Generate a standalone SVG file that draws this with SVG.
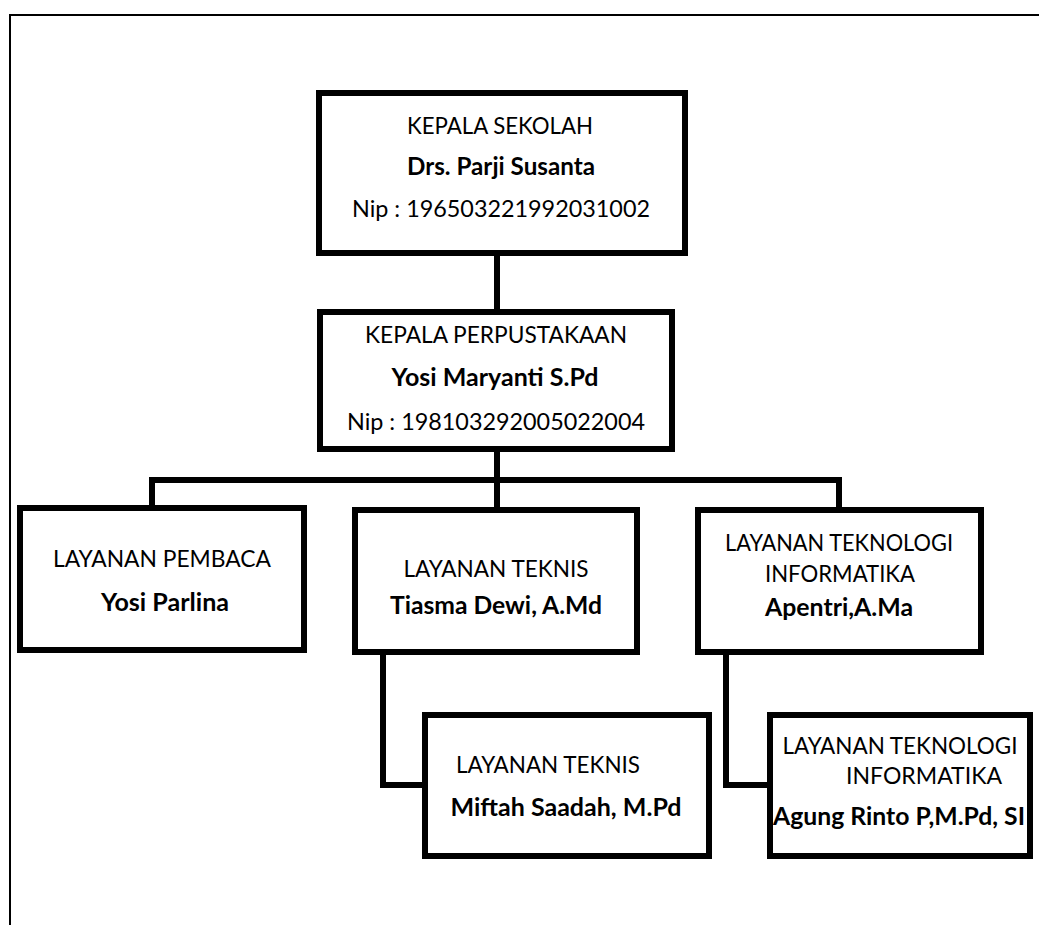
<svg xmlns="http://www.w3.org/2000/svg" width="1039" height="925" viewBox="0 0 1039 925">
<style>
.box{fill:#fff;stroke:#000;stroke-width:6}
.ln{fill:none;stroke:#000;stroke-width:6;stroke-linejoin:miter;stroke-linecap:butt}
text{font-family:Lato,"Open Sans","Liberation Sans",sans-serif;font-size:24px;fill:#000;text-anchor:middle}
.b{font-weight:bold}
</style>
<rect width="1039" height="925" fill="#fff"/>
<path d="M10 925 V15 H1039" fill="none" stroke="#000" stroke-width="2"/>
<g id="connectors">
<path class="ln" d="M497 256 V309"/>
<path class="ln" d="M497 452 V480"/>
<path class="ln" d="M152 505 V480 H839 V507"/>
<path class="ln" d="M497 480 V507"/>
<path class="ln" d="M383 655 V785 H422"/>
<path class="ln" d="M726 655 V785 H767"/>
</g>
<g id="kepala-sekolah">
<rect class="box" x="319" y="93" width="366" height="160"/>
<text x="500" y="134" textLength="186" lengthAdjust="spacingAndGlyphs">KEPALA SEKOLAH</text>
<text class="b" x="501" y="175" textLength="188" lengthAdjust="spacingAndGlyphs">Drs. Parji Susanta</text>
<text x="501" y="217" textLength="298" lengthAdjust="spacingAndGlyphs">Nip : 196503221992031002</text>
</g>
<g id="kepala-perpustakaan">
<rect class="box" x="320" y="312" width="352" height="137"/>
<text x="496" y="343" textLength="262" lengthAdjust="spacingAndGlyphs">KEPALA PERPUSTAKAAN</text>
<text class="b" x="495" y="386" textLength="207" lengthAdjust="spacingAndGlyphs">Yosi Maryanti S.Pd</text>
<text x="496" y="430" textLength="298" lengthAdjust="spacingAndGlyphs">Nip : 198103292005022004</text>
</g>
<g id="layanan-pembaca">
<rect class="box" x="20" y="508" width="284" height="142"/>
<text x="162" y="567" textLength="218" lengthAdjust="spacingAndGlyphs">LAYANAN PEMBACA</text>
<text class="b" x="165" y="611" textLength="128" lengthAdjust="spacingAndGlyphs">Yosi Parlina</text>
</g>
<g id="layanan-teknis">
<rect class="box" x="355" y="510" width="282" height="142"/>
<text x="496" y="577" textLength="185" lengthAdjust="spacingAndGlyphs">LAYANAN TEKNIS</text>
<text class="b" x="496" y="614" textLength="212" lengthAdjust="spacingAndGlyphs">Tiasma Dewi, A.Md</text>
</g>
<g id="layanan-ti">
<rect class="box" x="698" y="510" width="283" height="142"/>
<text x="839" y="551" textLength="228" lengthAdjust="spacingAndGlyphs">LAYANAN TEKNOLOGI</text>
<text x="840" y="582" textLength="150" lengthAdjust="spacingAndGlyphs">INFORMATIKA</text>
<text class="b" x="839" y="616" textLength="148" lengthAdjust="spacingAndGlyphs">Apentri,A.Ma</text>
</g>
<g id="layanan-teknis-2">
<rect class="box" x="425" y="715" width="284" height="141"/>
<text x="548" y="773" textLength="184" lengthAdjust="spacingAndGlyphs">LAYANAN TEKNIS</text>
<text class="b" x="566" y="816" textLength="231" lengthAdjust="spacingAndGlyphs">Miftah Saadah, M.Pd</text>
</g>
<g id="layanan-ti-2">
<rect class="box" x="770" y="715" width="260" height="141"/>
<text x="900" y="754" textLength="235" lengthAdjust="spacingAndGlyphs">LAYANAN TEKNOLOGI</text>
<text x="924" y="784" textLength="156" lengthAdjust="spacingAndGlyphs">INFORMATIKA</text>
<text class="b" x="899" y="825" textLength="252" lengthAdjust="spacingAndGlyphs">Agung Rinto P,M.Pd, SI</text>
</g>
</svg>
